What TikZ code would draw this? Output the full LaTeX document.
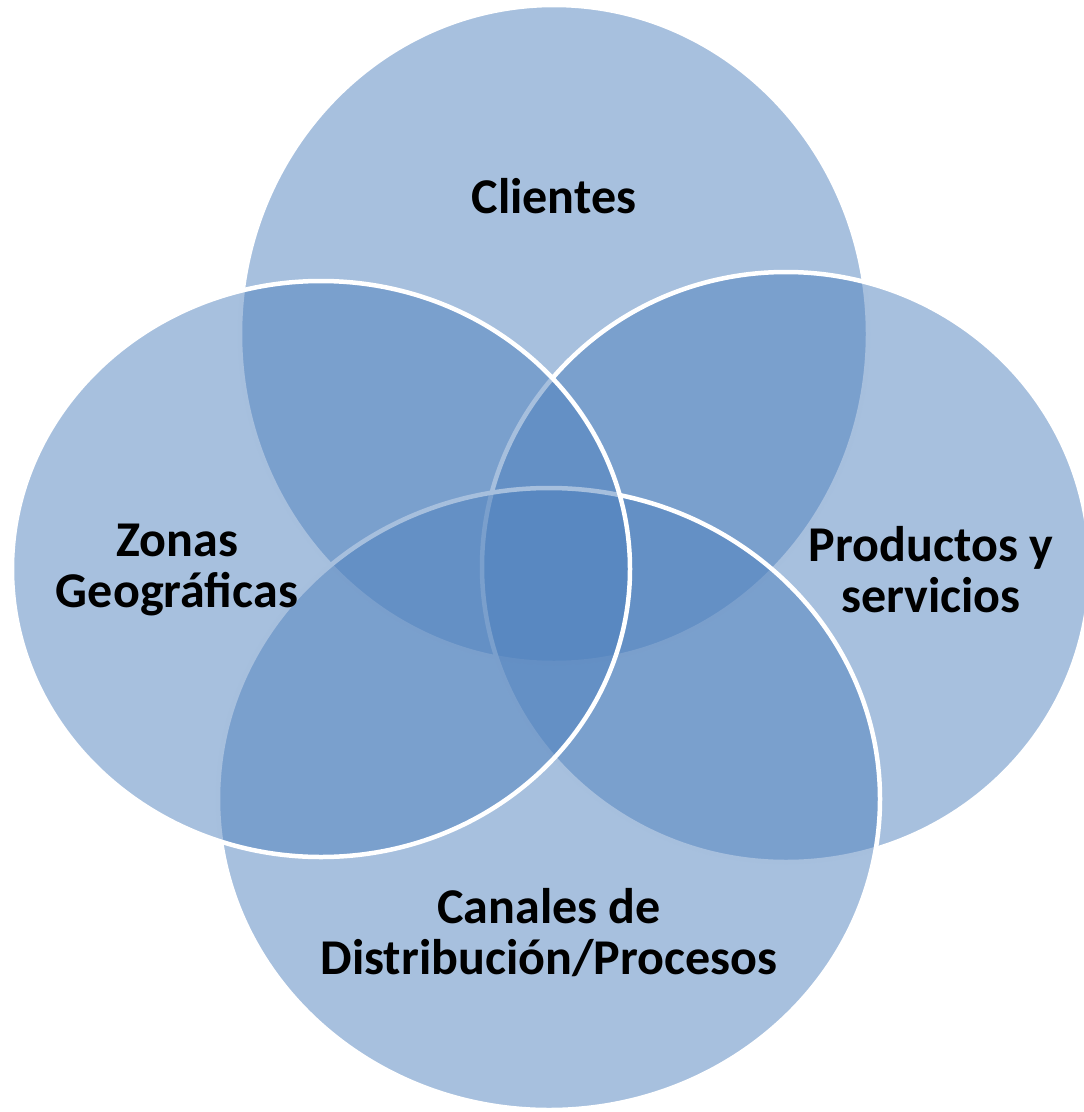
\documentclass[tikz,border=0pt]{standalone}
\usepackage{fontspec}
\setmainfont{Carlito}
\definecolor{vennblue}{HTML}{4F81BD}
\tikzset{
  venn/.style={fill=vennblue, fill opacity=0.5, draw=white, line width=0.09cm},
  vennlabel/.style={font=\bfseries\fontsize{28.5}{29}\selectfont, align=center, text=black}
}

\begin{document}
\begin{tikzpicture}[x=0.02cm, y=-0.02cm]
		%%%%% START %%%%%
		\useasboundingbox (0, 0) rectangle (1084, 1112);
		
		\draw[venn] (554, 334) ellipse (314 and 329);
		\draw[venn] (786, 567) ellipse (304 and 295);
		\draw[venn] (549, 799) ellipse (331 and 311);
		\draw[venn] (321, 569) ellipse (309 and 288);
		
		\node[vennlabel] (clientes) at (554, 196) {Clientes};
		\node[vennlabel] (zonas) at (177, 570) {Zonas\\Geográficas};
		\node[vennlabel] (productos) at (931, 570) {Productos y\\servicios};
		\node[vennlabel] (canales) at (549, 933) {Canales de\\Distribución/Procesos};
		
		%%%%% END %%%%%
	\end{tikzpicture}
\end{document}
